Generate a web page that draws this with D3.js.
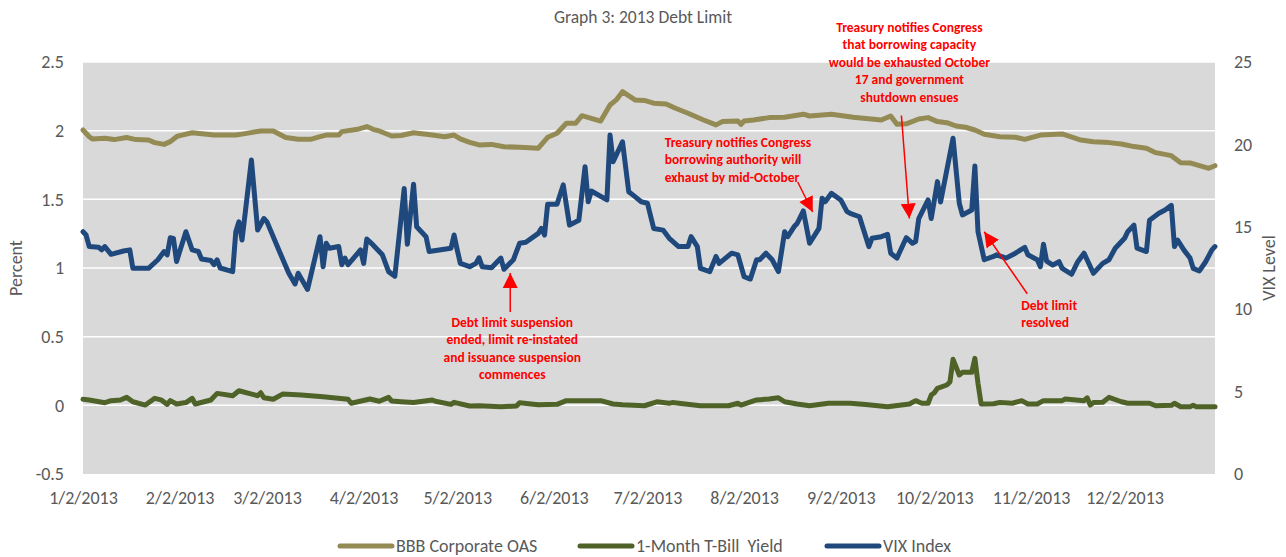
<!DOCTYPE html>
<html>
<head>
<meta charset="utf-8">
<script src="https://cdnjs.cloudflare.com/ajax/libs/d3/7.8.5/d3.min.js"></script>
<style>
  body { margin: 0; background: #fff; }
  svg text { font-family: Carlito, Calibri, Lato, sans-serif; white-space: pre; }
</style>
</head>
<body>
<svg id="chart" width="1286" height="557"></svg>
<script>
// days counted from 1/2/2013

var vixDay = [0,1,2,5,6,7,9,13,15,16,21,24,26,27,28,29,30,33,35,37,38,41,42,43,44,48,49,50,51,54,56,58,59,63,66,68,69,72,76,77,78,79,82,83,84,85,89,90,91,93,96,98,100,103,104,106,107,110,111,118,119,120,121,124,126,127,128,131,134,135,138,140,142,146,147,148,149,152,154,156,159,161,162,163,168,169,170,173,175,177,179,181,183,186,188,191,194,195,197,198,201,203,204,208,210,212,214,216,217,219,221,223,225,226,228,229,231,233,236,237,238,240,243,245,246,249,250,252,253,256,258,259,261,264,266,267,268,271,272,274,275,279,281,282,285,286,287,289,292,293,296,299,302,303,306,307,308,309,311,313,314,317,319,321,324,327,329,331,334,335,337,338,341,342,345,347,349,350,351,353,355,356,358,360,362,363];
var vixVal = [14.7,14.5,13.8,13.76,13.6,13.8,13.33,13.53,13.6,12.48,12.48,13.0,13.5,13.3,14.34,14.3,12.9,14.7,13.6,13.5,13.05,12.95,12.7,13.0,12.5,12.28,14.7,15.3,14.2,19.05,14.8,15.5,15.3,13.5,12.18,11.53,12.18,11.2,14.4,12.58,14.0,13.7,13.8,12.7,13.1,12.7,13.6,12.78,14.26,13.9,13.3,12.28,12.0,17.33,13.94,17.58,15.0,14.4,13.5,13.7,14.5,13.6,12.78,12.58,12.78,13.12,12.58,12.52,13.1,12.42,13.0,14.0,14.06,14.6,14.9,14.5,16.37,16.37,17.54,15.1,15.4,18.65,16.52,17.17,16.63,20.57,18.95,20.16,17.13,16.83,16.52,16.43,14.9,14.8,14.3,13.8,13.8,14.4,13.8,12.48,12.28,13.2,12.78,13.4,13.3,11.97,11.83,13.0,13.0,13.4,13.0,12.28,14.7,14.4,15.0,15.2,15.96,14.0,14.9,16.73,16.52,17.03,16.63,15.92,15.82,15.61,15.0,13.8,14.3,14.4,14.54,13.4,13.1,14.34,14.0,14.1,15.5,16.63,15.5,17.74,16.5,20.37,16.43,15.72,16.02,18.69,14.7,13.0,13.2,13.3,13.1,13.4,13.75,13.3,13.0,12.58,13.94,12.92,12.68,12.88,12.48,12.12,12.88,13.4,12.18,12.78,13.0,13.7,14.3,14.7,15.1,13.7,13.5,15.4,15.82,16.02,16.3,13.8,14.2,13.6,13.1,12.48,12.32,12.88,13.6,13.8];

var bbbDay = [0,2,3,7,10,14,17,21,23,26,28,30,31,35,42,49,51,57,61,65,69,73,76,78,82,83,88,91,93,95,99,102,106,112,116,119,121,124,127,131,135,140,146,149,152,155,158,160,166,169,171,173,177,180,183,187,190,194,199,203,205,210,211,212,215,220,225,231,233,240,247,256,259,261,264,268,271,274,277,280,283,286,289,294,299,302,307,314,320,324,329,333,337,341,344,349,352,355,358,361,363];
var bbbVal = [2.005,1.956,1.94,1.945,1.935,1.95,1.935,1.932,1.913,1.9,1.92,1.956,1.964,1.985,1.968,1.968,1.975,1.998,1.998,1.95,1.937,1.937,1.956,1.968,1.968,1.993,2.01,2.03,2.01,1.998,1.961,1.965,1.985,1.968,1.956,1.968,1.94,1.915,1.896,1.9,1.883,1.879,1.872,1.952,1.981,2.054,2.054,2.109,2.07,2.187,2.224,2.284,2.224,2.22,2.2,2.194,2.163,2.127,2.078,2.042,2.066,2.07,2.046,2.07,2.078,2.095,2.098,2.12,2.107,2.12,2.098,2.078,2.107,2.046,2.05,2.085,2.095,2.066,2.058,2.034,2.025,2.005,1.974,1.956,1.952,1.937,1.968,1.976,1.932,1.92,1.913,1.903,1.884,1.872,1.84,1.818,1.767,1.765,1.745,1.726,1.745];

var tbillDay = [0,2,7,9,12,14,16,20,23,25,27,28,30,33,35,36,41,43,48,50,56,57,58,61,64,70,77,85,86,92,95,98,99,102,106,112,113,118,119,124,127,134,139,140,146,152,155,166,170,173,180,184,188,189,198,207,210,211,216,220,223,225,229,233,239,246,251,258,265,267,269,271,272,273,274,277,278,279,281,282,285,286,287,288,292,294,298,301,303,306,308,314,315,321,322,323,324,327,329,333,335,342,344,349,350,352,355,356,357,363];
var tbillVal = [0.044,0.039,0.019,0.034,0.039,0.058,0.026,0.002,0.051,0.04,0.007,0.034,0.01,0.02,0.051,0.01,0.039,0.087,0.07,0.106,0.07,0.092,0.055,0.044,0.082,0.075,0.063,0.044,0.015,0.046,0.03,0.058,0.031,0.026,0.02,0.039,0.03,0.007,0.022,-0.005,-0.003,-0.01,-0.005,0.019,0.005,0.007,0.034,0.034,0.01,0.005,-0.003,0.026,0.015,0.02,-0.003,-0.003,0.015,0.002,0.039,0.046,0.055,0.026,0.01,-0.003,0.015,0.015,0.006,-0.01,0.01,0.034,0.015,0.015,0.075,0.092,0.124,0.148,0.17,0.335,0.221,0.24,0.24,0.342,0.16,0.01,0.012,0.02,0.015,0.034,0.01,0.01,0.034,0.034,0.046,0.034,0.055,0.002,0.02,0.022,0.058,0.026,0.015,0.015,-0.003,0.0,0.015,-0.01,-0.01,0.0,-0.01,-0.01];

var tickDates = ["2013-01-02","2013-02-02","2013-03-02","2013-04-02","2013-05-02","2013-06-02","2013-07-02","2013-08-02","2013-09-02","2013-10-02","2013-11-02","2013-12-02"];
var leftTicks = [-0.5, 0, 0.5, 1, 1.5, 2, 2.5];
var rightTicks = [0, 5, 10, 15, 20, 25];

var seriesNames = ["BBB Corporate OAS", "1-Month T-Bill  Yield", "VIX Index"];
var seriesColors = ["#948a54", "#4f6228", "#1f497d"];

// arrow tip sits on a date / VIX level, tail and text are offsets from it
var notes = [
  {day: 137, vix: 12.2, tail: [0, 39], lines: ["Debt limit suspension", "ended, limit re-instated", "and issuance suspension", "commences"], tx: 2, ty: 54, anchor: "middle"},
  {day: 234, vix: 15.9, tail: [-15, -30], lines: ["Treasury notifies Congress", "borrowing authority will", "exhaust by mid-October"], tx: -148, ty: -65, anchor: "start"},
  {day: 265, vix: 15.5, tail: [-8, -103], lines: ["Treasury notifies Congress", "that borrowing capacity", "would be exhausted October", "17 and government", "shutdown ensues"], tx: 0, ty: -187, anchor: "middle"},
  {day: 289, vix: 14.7, tail: [43, 62], lines: ["Debt limit", "resolved"], tx: 37, ty: 78, anchor: "start"}
];

var svg = d3.select("#chart");
var parse = d3.timeParse("%Y-%m-%d");
var start = parse("2013-01-02");
function dayDate(n) { return d3.timeDay.offset(start, n); }

var plotL = 83, plotR = 1215, plotT = 62, plotB = 474;
var fs = "18px";

var x = d3.scaleTime()
    .domain([start, parse("2013-12-31")])
    .range([plotL, plotR]);
var yL = d3.scaleLinear().domain([-0.5, 2.5]).range([plotB, plotT]);
var yR = d3.scaleLinear().domain([0, 25]).range([plotB, plotT]);

// plot background
svg.append("rect")
    .attr("x", plotL).attr("y", plotT)
    .attr("width", plotR - plotL).attr("height", plotB - plotT)
    .attr("fill", "#d9d9d9");

// gridlines
svg.append("g").selectAll("line")
    .data(leftTicks.filter(function(d) { return d > -0.5; }))
  .enter().append("line")
    .attr("x1", plotL).attr("x2", plotR)
    .attr("y1", function(d) { return yL(d); })
    .attr("y2", function(d) { return yL(d); })
    .attr("stroke", "#fff")
    .attr("stroke-width", 1.5);

// axes
var tickCol = "#595959";
var gL = svg.append("g")
    .attr("transform", "translate(" + (plotL - 16) + ",0)")
    .call(d3.axisLeft(yL).tickValues(leftTicks).tickSize(0).tickFormat(function(d) { return String(d); }));
var gR = svg.append("g")
    .attr("transform", "translate(" + (plotR + 16) + ",0)")
    .call(d3.axisRight(yR).tickValues(rightTicks).tickSize(0));
var gX = svg.append("g")
    .attr("transform", "translate(0," + (plotB + 14) + ")")
    .call(d3.axisBottom(x).tickValues(tickDates.map(parse)).tickSize(0).tickFormat(d3.timeFormat("%-m/%-d/%Y")));

[gL, gR, gX].forEach(function(g) {
  g.select(".domain").remove();
  g.attr("font-family", null).attr("font-size", null);
  g.selectAll("text")
      .attr("fill", tickCol)
      .style("font-size", fs);
});

// axis titles
svg.append("text")
    .attr("transform", "translate(22," + ((plotT + plotB) / 2) + ") rotate(-90)")
    .attr("text-anchor", "middle")
    .attr("fill", tickCol)
    .style("font-size", fs)
    .text("Percent");
svg.append("text")
    .attr("transform", "translate(1275," + ((plotT + plotB) / 2) + ") rotate(-90)")
    .attr("text-anchor", "middle")
    .attr("fill", tickCol)
    .style("font-size", fs)
    .text("VIX Level");

// chart title
svg.append("text")
    .attr("x", 643).attr("y", 23)
    .attr("text-anchor", "middle")
    .attr("fill", tickCol)
    .style("font-size", "17.5px")
    .text("Graph 3: 2013 Debt Limit");

// series lines
function lineFor(days, vals, yScale) {
  var pts = days.map(function(d, i) { return [dayDate(d), vals[i]]; });
  return d3.line()
      .x(function(p) { return x(p[0]); })
      .y(function(p) { return yScale(p[1]); })(pts);
}

var lines = [
  {d: lineFor(bbbDay, bbbVal, yL), color: seriesColors[0]},
  {d: lineFor(tbillDay, tbillVal, yL), color: seriesColors[1]},
  {d: lineFor(vixDay, vixVal, yR), color: seriesColors[2]}
];

svg.append("g").selectAll("path")
    .data(lines)
  .enter().append("path")
    .attr("d", function(d) { return d.d; })
    .attr("fill", "none")
    .attr("stroke", function(d) { return d.color; })
    .attr("stroke-width", 5)
    .attr("stroke-linejoin", "round")
    .attr("stroke-linecap", "round");

// annotations
svg.append("defs").append("marker")
    .attr("id", "tri")
    .attr("viewBox", "0 -8 15 16")
    .attr("refX", 15)
    .attr("markerWidth", 15)
    .attr("markerHeight", 16)
    .attr("markerUnits", "userSpaceOnUse")
    .attr("orient", "auto")
  .append("path")
    .attr("d", "M0,-7.5L15,0L0,7.5Z")
    .attr("fill", "#ff0000");

var note = svg.append("g").selectAll("g")
    .data(notes)
  .enter().append("g")
    .attr("transform", function(d) { return "translate(" + x(dayDate(d.day)) + "," + yR(d.vix) + ")"; });

note.append("line")
    .attr("x1", function(d) { return d.tail[0]; })
    .attr("y1", function(d) { return d.tail[1]; })
    .attr("x2", 0).attr("y2", 0)
    .attr("stroke", "#ff0000")
    .attr("stroke-width", 1.5)
    .attr("marker-end", "url(#tri)");

note.append("text")
    .attr("text-anchor", function(d) { return d.anchor; })
    .attr("fill", "#ff0000")
    .style("font-size", "13.5px")
    .style("font-weight", "bold")
    .each(function(d) {
      var t = d3.select(this);
      d.lines.forEach(function(s, i) {
        t.append("tspan")
            .attr("x", d.tx)
            .attr("y", d.ty + i * 17.5)
            .text(s);
      });
    });

// legend
var leg = svg.append("g").selectAll("g")
    .data(seriesNames)
  .enter().append("g")
    .attr("transform", function(d, i) { return "translate(" + [340, 580, 827][i] + ",546)"; });

leg.append("line")
    .attr("x1", 0).attr("x2", 52)
    .attr("stroke", function(d, i) { return seriesColors[i]; })
    .attr("stroke-width", 5)
    .attr("stroke-linecap", "round");

leg.append("text")
    .attr("x", 56).attr("dy", "0.35em")
    .attr("fill", tickCol)
    .style("font-size", fs)
    .text(function(d) { return d; });
</script>
</body>
</html>
